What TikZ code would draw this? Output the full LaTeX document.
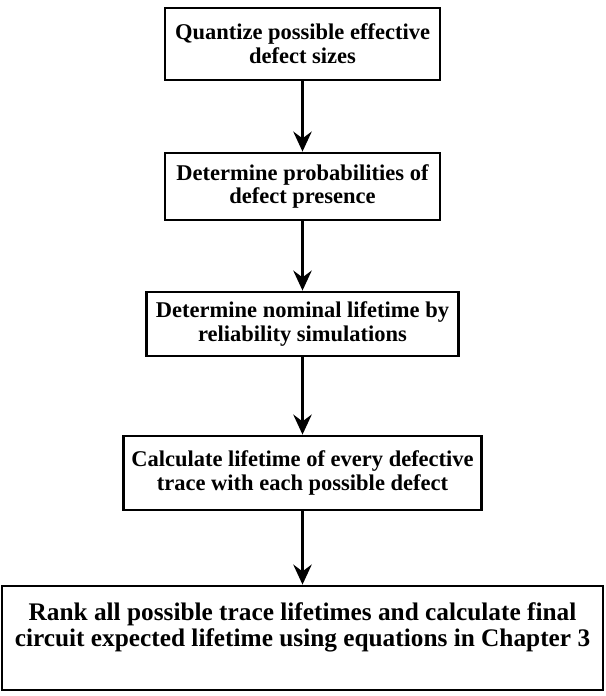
\documentclass[tikz,border=0pt]{standalone}
\usepackage{fontspec}
\setmainfont{Liberation Serif}
\usetikzlibrary{arrows.meta}
\usetikzlibrary{positioning}

\begin{document}
\begin{tikzpicture}[
        x=0.025cm, y=0.025cm, % 1 unidad = 1 px de la figura original
        font=\fontsize{16}{17}\selectfont\bfseries,
        % --- Estilos ---
        stepbox/.style={draw, line width=2pt, align=center, inner sep=2pt},
        flow/.style={-{Stealth[length=5mm, width=4.6mm, inset=1.7mm]}, line width=2pt},
    ]
        \useasboundingbox (0,0) rectangle (605,-696);

        % --- Cajas del proceso ---
        \node[stepbox, minimum width=6.875cm, minimum height=1.8cm] (quantize) at (302.5,-44)
            {Quantize possible effective\\defect sizes};
        \node[stepbox, minimum width=6.875cm, minimum height=1.675cm] (probab) at (302.5,-186.5)
            {Determine probabilities of\\defect presence};
        \node[stepbox, minimum width=7.8cm, minimum height=1.6cm] (nominal) at (302.5,-324)
            {Determine nominal lifetime by\\reliability simulations};
        \node[stepbox, minimum width=8.95cm, minimum height=1.85cm] (calc) at (302.5,-473)
            {Calculate lifetime of every defective\\trace with each possible defect};
        \node[stepbox, minimum width=15.025cm, minimum height=2.6cm,
              font=\fontsize{18}{18.5}\selectfont\bfseries] (rank) at (302.5,-638)
            {Rank all possible trace lifetimes and calculate final\\circuit expected lifetime using equations in Chapter 3\rule[-0.65cm]{0pt}{0pt}};

        % --- Flechas ---
        \draw[flow] (quantize) -- (probab);
        \draw[flow] (probab) -- (nominal);
        \draw[flow] (nominal) -- (calc);
        \draw[flow] (calc) -- (rank);

    \end{tikzpicture}
\end{document}
